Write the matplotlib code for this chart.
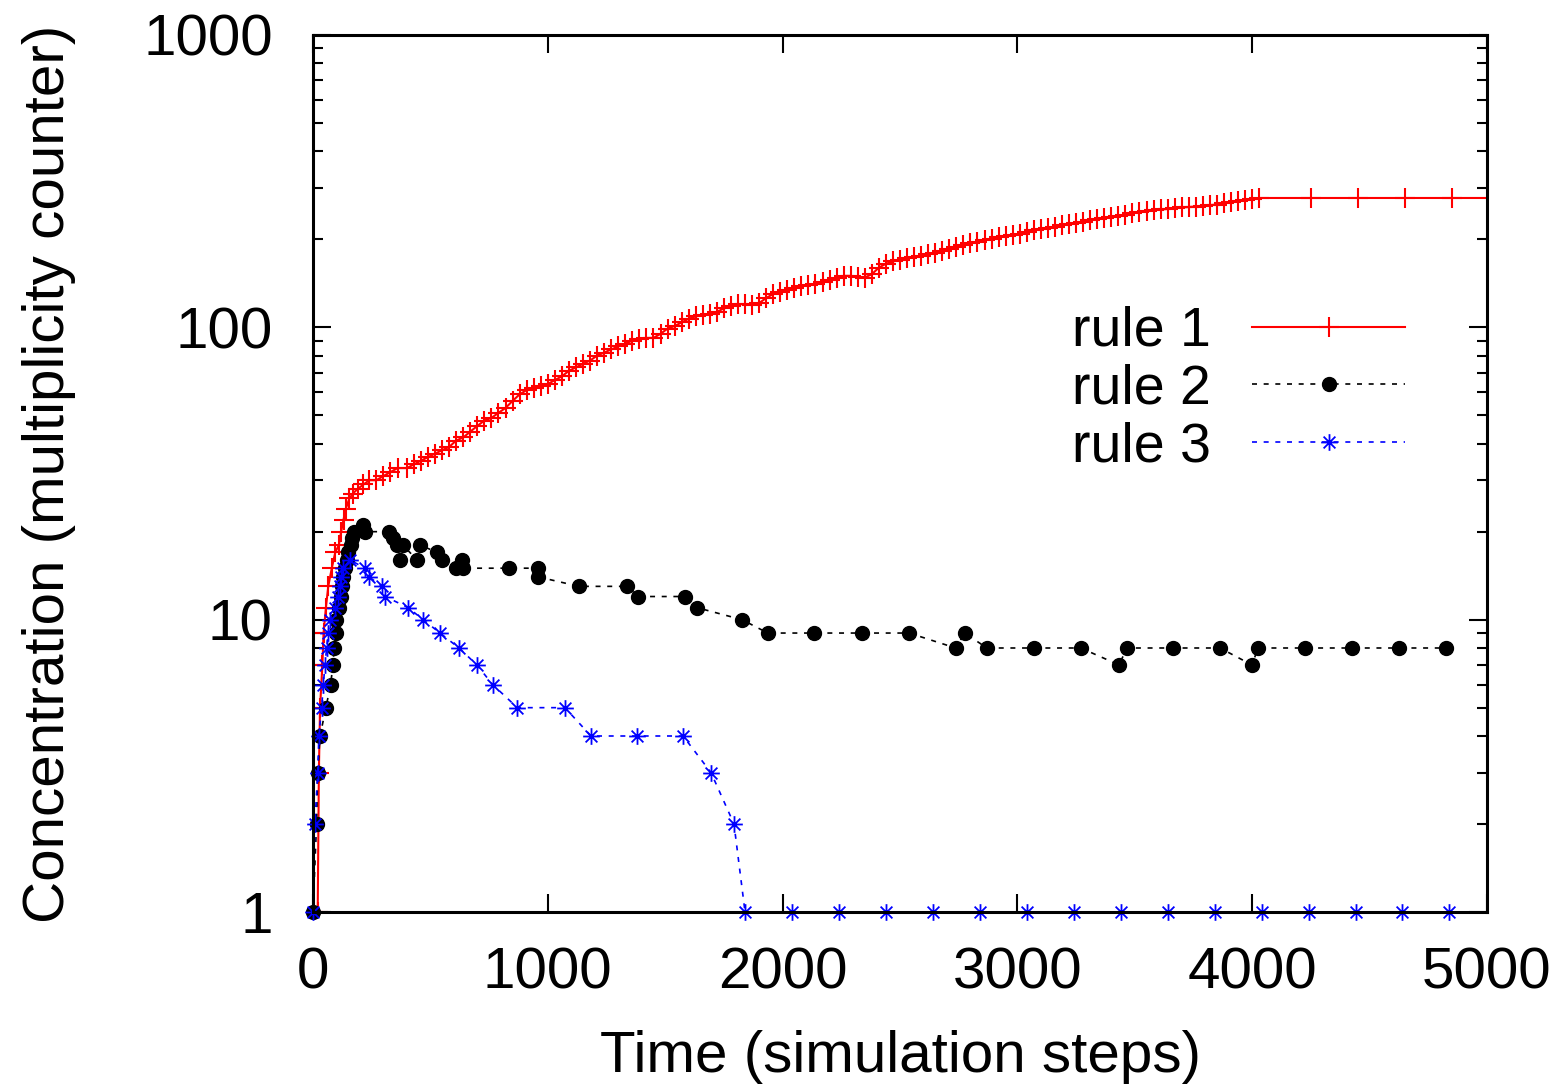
import matplotlib
matplotlib.use("Agg")
import matplotlib.pyplot as plt
from matplotlib.path import Path
from matplotlib.ticker import FixedLocator, LogLocator, NullFormatter

plt.rcParams['font.family'] = ['Liberation Sans', 'DejaVu Sans']

# rule 1 (dense staircase of the counter)
rule1_t = [0, 20, 25, 30, 40, 45, 55, 65, 80, 95, 110, 120, 130, 140, 155, 170, 190, 215,
           240, 270, 300, 330, 360, 400, 430, 460, 490, 520, 550, 580, 610, 640, 670,
           700, 730, 760, 790, 820, 850, 880, 910, 940, 970, 1000, 1030, 1060, 1090,
           1120, 1150, 1180, 1210, 1240, 1270, 1300, 1330, 1360, 1390, 1420, 1450, 1480,
           1510, 1540, 1570, 1600, 1630, 1660, 1690, 1720, 1750, 1780, 1810, 1840, 1870,
           1900, 1930, 1960, 1990, 2020, 2050, 2080, 2110, 2140, 2170, 2200, 2230, 2260,
           2290, 2320, 2350, 2380, 2410, 2440, 2470, 2500, 2530, 2560, 2590, 2620, 2650,
           2680, 2710, 2740, 2770, 2800, 2830, 2860, 2890, 2920, 2950, 2980, 3010, 3040,
           3070, 3100, 3130, 3160, 3190, 3220, 3250, 3280, 3310, 3340, 3370, 3400, 3430,
           3460, 3490, 3520, 3550, 3580, 3610, 3640, 3670, 3700, 3730, 3760, 3790, 3820,
           3850, 3880, 3910, 3940, 3970, 4000, 4030, 4250, 4450, 4650, 4850, 5050]
rule1_c = [1, 1, 3, 5, 7, 9, 11, 13, 15, 17, 18, 20, 22, 24, 26, 27, 28, 29,
           30, 30, 31, 32, 33, 33, 34, 35, 36, 37, 38, 39, 41, 42, 44,
           46, 48, 49, 51, 53, 56, 59, 61, 62, 63, 64, 66, 68, 71,
           73, 75, 77, 80, 82, 84, 86, 88, 90, 91, 92, 92, 95,
           99, 101, 104, 107, 109, 110, 111, 113, 116, 118, 120, 120, 119,
           121, 126, 130, 132, 134, 136, 138, 140, 141, 143, 145, 147, 150,
           150, 149, 148, 152, 160, 165, 168, 170, 172, 174, 176, 178, 180,
           182, 185, 188, 192, 194, 196, 199, 201, 203, 205, 207, 209, 212,
           215, 217, 219, 221, 224, 226, 228, 230, 233, 235, 237, 239, 241,
           243, 246, 248, 250, 252, 253, 254, 256, 257, 258, 259, 261, 262,
           263, 266, 268, 270, 273, 275, 277, 277, 277, 277, 277, 277]

# rule 2
rule2_t = [0, 15, 20, 30, 55, 75, 85, 90, 98, 100, 110, 118, 123, 128, 135, 143, 150,
           160, 165, 175, 213, 221, 325, 341, 357, 370, 383, 443, 456, 528, 549, 610,
           634, 640, 835, 960, 960, 1133, 1337, 1386, 1586, 1634, 1827, 1937, 2135,
           2338, 2539, 2737, 2776, 2870, 3071, 3270, 3433, 3466, 3664, 3863, 3999,
           4025, 4225, 4425, 4625, 4825]
rule2_c = [1, 2, 3, 4, 5, 6, 7, 8, 9, 10, 11, 12, 13, 14, 15, 16, 17,
           18, 19, 20, 21, 20, 20, 19, 18, 16, 18, 16, 18, 17, 16, 15,
           16, 15, 15, 15, 14, 13, 13, 12, 12, 11, 10, 9, 9,
           9, 9, 8, 9, 8, 8, 8, 7, 8, 8, 8, 7,
           8, 8, 8, 8, 8]

# rule 3
rule3_t = [0, 8, 20, 25, 37, 44, 51, 58, 65, 72, 94, 107, 114, 121, 128, 158, 221,
           239, 294, 307, 405, 469, 541, 622, 698, 765, 870, 1073, 1184, 1380, 1576,
           1695, 1793, 1840, 2040, 2240, 2440, 2640, 2840, 3040, 3240, 3440, 3640,
           3840, 4040, 4240, 4440, 4640, 4840]
rule3_c = [1, 2, 3, 4, 5, 6, 7, 8, 9, 10, 11, 12, 13, 14, 15, 16, 15,
           14, 13, 12, 11, 10, 9, 8, 7, 6, 5, 5, 4, 4, 4,
           3, 2, 1, 1, 1, 1, 1, 1, 1, 1, 1, 1,
           1, 1, 1, 1, 1, 1]

x_ticks = [0, 1000, 2000, 3000, 4000, 5000]
y_ticks = [1, 10, 100, 1000]

# gnuplot style asterisk: + and x on top of each other
d = 0.707
star = Path([(-1, 0), (1, 0), (0, -1), (0, 1), (-d, -d), (d, d), (-d, d), (d, -d)],
            [Path.MOVETO, Path.LINETO] * 4)

fig = plt.figure(figsize=(15.68, 10.9), dpi=100)
ax = fig.add_axes([313 / 1568, 1 - 912 / 1090, (1487 - 313) / 1568, (912 - 35) / 1090])

ax.plot(rule1_t, rule1_c, color='red', lw=1.5, marker='+', ms=14, mew=1.5,
        label='rule 1', clip_on=True)
ax.plot(rule2_t, rule2_c, color='black', lw=1.2, ls=(0, (3, 4)), marker='o', ms=10,
        label='rule 2', clip_on=False)
ax.plot(rule3_t, rule3_c, color='blue', lw=1.2, ls=(0, (3, 4)), marker=star, ms=12,
        mew=1.3, label='rule 3', clip_on=False)

ax.set_yscale('log')
ax.set_xlim(0, 5000)
ax.set_ylim(1, 1000)
ax.xaxis.set_major_locator(FixedLocator(x_ticks))
ax.yaxis.set_major_locator(FixedLocator(y_ticks))
ax.yaxis.set_minor_locator(LogLocator(base=10, subs=range(2, 10)))
ax.yaxis.set_minor_formatter(NullFormatter())
ax.set_yticklabels([str(v) for v in y_ticks])

for s in ax.spines.values():
    s.set_linewidth(2.2)
ax.tick_params(which='both', direction='in', top=True, right=True, width=1.5,
               labelsize=42)
ax.tick_params(which='major', length=13)
ax.tick_params(which='minor', length=7)
ax.tick_params(axis='x', which='major', pad=25)
ax.tick_params(axis='y', which='major', pad=29)

ax.set_xlabel('Time (simulation steps)', fontsize=42, labelpad=21)
ax.set_ylabel('Concentration (multiplicity counter)', fontsize=42, labelpad=48)

ax.legend(loc='upper right', bbox_to_anchor=(1405 / 1568, 1 - 306 / 1090),
          bbox_transform=fig.transFigure, frameon=False, fontsize=40,
          markerfirst=False, handlelength=2.75, handletextpad=0.75,
          labelspacing=0.1, borderpad=0, borderaxespad=0)

fig.savefig('out.png', dpi=100)
